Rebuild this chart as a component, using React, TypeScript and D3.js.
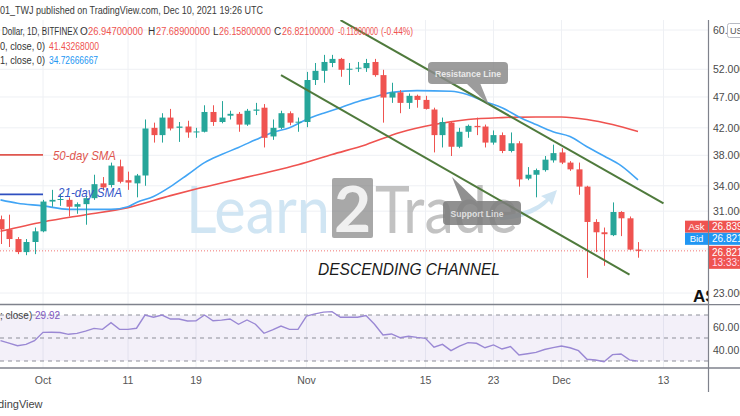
import React from "react";
import * as d3 from "d3";

const W = 740;
const H = 416;

// Daily candles from 2021-09-26 to 2021-12-10 (Bitfinex daily)
const firstDay = "2021-09-26";
const lastDay = "2021-12-10";
const opens = [30.1, 29.0, 28.0, 26.7, 27.7, 28.8, 32.1, 32.3, 32.3, 31.5, 31.8, 32.5, 34.3, 34.1, 36.5, 34.7, 34.3, 35.3, 42.0, 40.9, 43.6, 42.0, 42.2, 41.3, 41.4, 44.5, 42.9, 43.9, 44.2, 42.5, 44.7, 45.2, 40.7, 42.0, 44.3, 42.8, 42.9, 50.0, 51.7, 53.2, 54.0, 51.9, 52.1, 52.2, 53.4, 50.9, 46.9, 47.8, 46.0, 47.2, 46.5, 44.9, 40.9, 42.8, 39.2, 41.4, 42.3, 42.2, 39.8, 40.9, 38.6, 39.7, 34.9, 35.4, 36.0, 37.3, 38.4, 37.0, 36.1, 33.9, 29.8, 28.7, 28.4, 30.9, 30.2, 26.947];
const highs = [30.5, 30.6, 28.2, 28.0, 29.2, 32.3, 33.5, 33.0, 32.6, 32.0, 32.8, 35.4, 35.1, 37.0, 37.4, 35.8, 35.5, 43.3, 42.8, 44.3, 45.0, 42.9, 43.1, 42.0, 45.6, 45.6, 46.3, 44.7, 44.5, 45.0, 46.0, 45.8, 43.3, 44.7, 44.6, 43.6, 51.5, 53.2, 54.8, 54.8, 54.2, 53.2, 53.4, 54.0, 54.0, 51.9, 49.5, 48.2, 47.6, 47.4, 47.2, 45.2, 43.6, 43.0, 42.0, 42.5, 43.6, 42.5, 41.6, 41.3, 41.3, 40.0, 36.4, 36.2, 37.9, 39.5, 39.0, 37.2, 37.0, 34.0, 30.1, 29.2, 32.0, 31.0, 30.4, 27.689];
const lows = [27.5, 27.2, 26.5, 26.4, 26.5, 28.7, 31.5, 31.6, 30.4, 30.7, 29.5, 32.3, 33.4, 33.8, 34.3, 33.5, 32.6, 34.0, 39.8, 39.8, 41.6, 39.9, 40.5, 40.5, 41.3, 42.3, 42.7, 43.3, 41.4, 42.3, 44.0, 39.1, 40.2, 41.8, 42.4, 41.4, 42.1, 49.1, 49.5, 52.4, 50.6, 49.1, 51.5, 51.5, 50.6, 42.8, 46.0, 44.3, 45.0, 45.2, 44.9, 38.4, 39.1, 37.9, 39.0, 40.5, 40.9, 39.1, 39.5, 38.3, 38.4, 33.9, 34.7, 32.6, 35.8, 37.0, 36.8, 35.9, 32.9, 24.3, 26.7, 25.4, 28.3, 28.3, 26.9, 26.158];
const closes = [29.0, 28.0, 26.7, 27.7, 28.8, 32.1, 32.3, 32.4, 31.5, 31.8, 32.5, 34.2, 33.8, 36.6, 34.5, 34.4, 35.3, 41.9, 40.9, 43.6, 41.9, 42.2, 41.3, 41.45, 44.5, 42.9, 43.6, 44.2, 42.5, 44.7, 44.9, 40.5, 42.0, 44.3, 42.8, 42.95, 50.0, 51.7, 53.4, 54.0, 51.9, 52.1, 52.3, 53.2, 50.9, 46.9, 47.8, 46.0, 47.2, 46.5, 45.0, 40.9, 42.9, 39.2, 41.4, 42.3, 42.1, 39.8, 40.9, 38.6, 39.7, 34.8, 35.4, 36.0, 37.4, 38.3, 37.0, 36.1, 33.9, 29.8, 28.7, 28.5, 30.9, 30.2, 26.94, 26.821];

const rsiValues = [47.7, 45.5, 43.3, 44.5, 47.7, 54.9, 55, 54.8, 53.2, 54, 56, 58.4, 57.5, 63.3, 57.5, 57.5, 58.5, 70, 68, 70, 66.5, 66.5, 64.8, 65, 70, 65, 65.5, 66.5, 61.9, 65.7, 62, 54.1, 57, 60.4, 57.5, 57.5, 69.1, 71, 72.5, 72.9, 68, 68, 68, 69.5, 62, 52.6, 53.5, 50.3, 51.5, 50.5, 49.7, 42, 44.5, 39, 43, 46, 45.4, 41.5, 44, 40.4, 42.5, 35.2, 36.3, 37.5, 40, 41.6, 43, 41.5, 39, 31.5, 30.9, 29.4, 35.5, 36.1, 31, 29.92];

const sma21Dates = ["2021-09-26", "2021-09-28", "2021-10-01", "2021-10-04", "2021-10-09", "2021-10-11", "2021-10-12", "2021-10-14", "2021-10-16", "2021-10-18", "2021-10-20", "2021-10-22", "2021-10-24", "2021-10-26", "2021-10-28", "2021-10-30", "2021-11-01", "2021-11-03", "2021-11-05", "2021-11-07", "2021-11-09", "2021-11-11", "2021-11-14", "2021-11-18", "2021-11-20", "2021-11-22", "2021-11-24", "2021-11-26", "2021-11-28", "2021-11-30", "2021-12-02", "2021-12-04", "2021-12-06", "2021-12-08", "2021-12-10"];
const sma21Values = [32.3, 31.9, 31.6, 31.2, 31.2, 31.5, 32.0, 32.7, 33.9, 35.4, 37.0, 38.1, 39.1, 40.2, 41.3, 42.0, 43.3, 44.3, 45.2, 46.2, 47.0, 47.8, 48.1, 48.0, 47.4, 46.2, 45.2, 43.7, 42.5, 41.4, 40.7, 39.2, 37.9, 36.6, 34.73];

const sma50Dates = ["2021-09-26", "2021-10-01", "2021-10-06", "2021-10-11", "2021-10-16", "2021-10-19", "2021-10-23", "2021-10-27", "2021-10-31", "2021-11-04", "2021-11-08", "2021-11-12", "2021-11-16", "2021-11-20", "2021-11-24", "2021-11-28", "2021-12-01", "2021-12-04", "2021-12-07", "2021-12-10"];
const sma50Values = [28.8, 29.8, 30.6, 31.4, 32.8, 33.6, 34.6, 35.6, 36.7, 38.1, 39.5, 41.3, 42.5, 43.3, 43.6, 43.7, 43.7, 43.3, 42.5, 41.43];

const resistanceDates = ["2021-11-05", "2021-12-13"];
const resistancePrices = [62.2, 31.9];
const supportDates = ["2021-10-29", "2021-12-09"];
const supportPrices = [50.9, 24.6];

const priceTicks = [60, 52, 47, 42, 38, 34, 31, 27, 23];
const priceTickLabels = ["60.0", "52.000", "47.000", "42.000", "38.000", "34.000", "31.000", "", "23.000"];
const timeTicks = ["2021-10-01", "2021-10-11", "2021-10-19", "2021-11-01", "2021-11-15", "2021-11-23", "2021-12-01", "2021-12-13"];
const timeTickLabels = ["Oct", "11", "19", "Nov", "15", "23", "Dec", "13"];
const rsiLevels = [70, 50, 30];
const rsiTicks = [60, 40];

const askPrice = 26.839;
const bidPrice = 26.821;
const lastPrice = 26.821;

const UP = "#26a69a";
const DOWN = "#ef5350";
const FONT = "'Liberation Sans', Arial, sans-serif";

const parse = (s: string) => new Date(s + "T00:00:00Z");

export default function App() {
  const dates = d3.utcDay.range(parse(firstDay), d3.utcDay.offset(parse(lastDay), 1));
  const x = d3.scaleUtc().domain([parse("2021-10-01"), parse("2021-12-10")]).range([43, 638]);
  const y = d3.scaleLog().domain([23, 60]).range([293, 30]);
  const ry = d3.scaleLinear().domain([30, 70]).range([361, 315]);

  const smooth = d3
    .line<[Date, number]>()
    .x((d) => x(d[0]))
    .y((d) => y(d[1]))
    .curve(d3.curveMonotoneX);
  const sma21 = smooth(sma21Dates.map((d, i) => [parse(d), sma21Values[i]] as [Date, number]));
  const sma50 = smooth(sma50Dates.map((d, i) => [parse(d), sma50Values[i]] as [Date, number]));
  const rsiPath = d3
    .line<number>()
    .x((_, i) => x(dates[i]))
    .y((d) => ry(d))(rsiValues);

  const bw = 6;
  const axisX = 708.5;

  return (
    <svg
      width={W}
      height={H}
      viewBox={`0 0 ${W} ${H}`}
      style={{ position: "absolute", left: 0, top: 0, display: "block", background: "#fff" }}
      fontFamily={FONT}
    >
      <defs>
        <clipPath id="pane">
          <rect x={0} y={20} width={axisX} height={284} />
        </clipPath>
        <clipPath id="rsiPane">
          <rect x={0} y={305} width={axisX} height={62} />
        </clipPath>
      </defs>
      <rect x={0} y={0} width={W} height={H} fill="#fff" />

      {/* grid */}
      {priceTicks.map((p, i) => (
        <line key={"hg" + i} x1={0} x2={axisX} y1={y(p)} y2={y(p)} stroke="#eef0f4" strokeWidth={1} />
      ))}
      {timeTicks.map((t, i) => (
        <line key={"vg" + i} x1={x(parse(t))} x2={x(parse(t))} y1={20} y2={368} stroke="#eef0f4" strokeWidth={1} />
      ))}

      {/* watermark */}
      <g>
        <text x={186} y={233} fontFamily="Lato, 'Open Sans', sans-serif" fontSize={66} fill="#d0e5f3" textLength={144} lengthAdjust="spacingAndGlyphs">Learn</text>
        <rect x={332} y={178} width={41} height={60} rx={2} fill="#7a7a7a" opacity={0.65} />
        <text x={352.5} y={232} textAnchor="middle" fontFamily="Lato, 'Open Sans', sans-serif" fontWeight={700} fontSize={64} fill="#f0f0f0">2</text>
        <text x={375} y={233} fontFamily="Lato, 'Open Sans', sans-serif" fontSize={66} fill="#a9a9a9" opacity={0.7} textLength={143} lengthAdjust="spacingAndGlyphs">Trade</text>
        <path d="M 500 216 Q 530 213 546 199 L 541 196 L 557 190 L 552 205 L 549 201 Q 532 219 500 220 Z" fill="#d0e5f3" />
      </g>

      <g clipPath="url(#pane)">
        {/* last price dotted line */}
        <line x1={0} x2={axisX} y1={y(lastPrice)} y2={y(lastPrice)} stroke={DOWN} strokeWidth={1} strokeDasharray="1,2" opacity={0.8} />

        {/* moving averages */}
        <path d={sma50 || ""} fill="none" stroke="#ef5350" strokeWidth={1.6} />
        <path d={sma21 || ""} fill="none" stroke="#42a5f5" strokeWidth={1.6} />

        {/* candles */}
        {dates.map((d, i) => {
          const o = opens[i], h = highs[i], l = lows[i], c = closes[i];
          const up = c >= o;
          const col = up ? UP : DOWN;
          const cx = Math.round(x(d)) + 0.5;
          const top = y(Math.max(o, c));
          const bot = y(Math.min(o, c));
          return (
            <g key={"c" + i}>
              <line x1={cx} x2={cx} y1={y(h)} y2={y(l)} stroke={col} strokeWidth={1} />
              <rect x={cx - bw / 2} y={top} width={bw} height={Math.max(1, bot - top)} fill={col} />
            </g>
          );
        })}

        {/* SMA annotations on the left */}
        <line x1={0} x2={x(parse("2021-10-01"))} y1={y(38.05)} y2={y(38.05)} stroke="#e0574f" strokeWidth={1.8} />
        <line x1={0} x2={x(parse("2021-10-01"))} y1={y(32.95)} y2={y(32.95)} stroke="#2f4fc0" strokeWidth={1.8} />
        <text x={53} y={160} fontSize={13} fontStyle="italic" fill="#e0574f" textLength={63} lengthAdjust="spacingAndGlyphs">50-day SMA</text>
        <text x={58} y={197} fontSize={13} fontStyle="italic" fill="#3556c8" textLength={64} lengthAdjust="spacingAndGlyphs">21-day SMA</text>

        {/* channel lines */}
        <line
          x1={x(parse(resistanceDates[0]))} y1={y(resistancePrices[0])}
          x2={x(parse(resistanceDates[1]))} y2={y(resistancePrices[1])}
          stroke="#4f7a3c" strokeWidth={2}
        />
        <line
          x1={x(parse(supportDates[0]))} y1={y(supportPrices[0])}
          x2={x(parse(supportDates[1]))} y2={y(supportPrices[1])}
          stroke="#4f7a3c" strokeWidth={2}
        />
      </g>

      {/* callouts */}
      <g opacity={0.85}>
        <path d="M 466 83 L 480 83 L 489 105 Z" fill="#8b8b8b" />
        <rect x={428} y={62} width={80} height={22} rx={4} fill="#8b8b8b" />
        <text x={468} y={76.5} textAnchor="middle" fontSize={9.5} fontWeight={700} fill="#e6e6e6" textLength={66} lengthAdjust="spacingAndGlyphs">Resistance Line</text>
        <path d="M 452 177 L 462 202 L 478 202 Z" fill="#7d7d7d" />
        <rect x={443} y={201} width={78} height={24} rx={4} fill="#7d7d7d" />
        <text x={477} y={216.5} textAnchor="middle" fontSize={9.5} fontWeight={700} fill="#dcdcdc" textLength={53} lengthAdjust="spacingAndGlyphs">Support Line</text>
      </g>

      <text x={318} y={275} fontSize={17} fontStyle="italic" fill="#1a1a1a" textLength={182} lengthAdjust="spacingAndGlyphs">DESCENDING CHANNEL</text>
      <text x={693} y={302} fontSize={17} fontWeight={600} fill="#111">AS</text>

      {/* RSI pane */}
      <rect x={0} y={ry(70)} width={axisX} height={ry(30) - ry(70)} fill="#7e57c2" opacity={0.09} />
      {rsiLevels.map((v, i) => (
        <line key={"rl" + i} x1={0} x2={axisX} y1={ry(v)} y2={ry(v)} stroke="#8d8f99" strokeWidth={1} strokeDasharray="4,4" />
      ))}
      <g clipPath="url(#rsiPane)">
        <path d={rsiPath || ""} fill="none" stroke="#9a88d4" strokeWidth={1.4} />
      </g>
      <text x={0} y={319} fontSize={10}>
        <tspan fill="#444">; close) </tspan>
        <tspan fill="#7e57c2">{rsiValues[rsiValues.length - 1].toFixed(2)}</tspan>
      </text>

      {/* pane separators */}
      <line x1={0} x2={W} y1={304.5} y2={304.5} stroke="#7f828c" strokeWidth={1.4} />
      <line x1={0} x2={W} y1={368} y2={368} stroke="#7f828c" strokeWidth={1.4} />

      {/* right price axis */}
      <rect x={axisX + 0.5} y={20} width={W - axisX} height={284} fill="#fff" />
      <line x1={axisX} x2={axisX} y1={20} y2={392} stroke="#7f828c" strokeWidth={1.2} />
      {priceTicks.map((p, i) => (
        <text key={"pl" + i} x={713} y={y(p) + 4} fontSize={10.5} fill="#4a4a4a">{priceTickLabels[i]}</text>
      ))}
      <rect x={727.5} y={23.5} width={20} height={14} rx={2} fill="#fff" stroke="#b8bbc4" />
      <text x={730} y={34} fontSize={9} fill="#555">USD</text>
      {rsiTicks.map((v, i) => (
        <text key={"rt" + i} x={713} y={ry(v) + 4} fontSize={10.5} fill="#4a4a4a">{v.toFixed(2)}</text>
      ))}

      {/* ask / bid / last tags */}
      <rect x={685} y={y(askPrice) - 30} width={23} height={12} fill={DOWN} />
      <text x={696.5} y={y(askPrice) - 20.5} textAnchor="middle" fontSize={9.5} fill="#fff">Ask</text>
      <rect x={709} y={y(askPrice) - 30} width={31} height={12} fill={DOWN} />
      <text x={712} y={y(askPrice) - 20.5} fontSize={10} fill="#fff">{askPrice.toFixed(5)}</text>
      <rect x={685} y={y(bidPrice) - 18} width={23} height={12} fill="#2196f3" />
      <text x={696.5} y={y(bidPrice) - 8.5} textAnchor="middle" fontSize={9.5} fill="#fff">Bid</text>
      <rect x={709} y={y(bidPrice) - 18} width={31} height={12} fill="#2196f3" />
      <text x={712} y={y(bidPrice) - 8.5} fontSize={10} fill="#fff">{bidPrice.toFixed(5)}</text>
      <rect x={709} y={y(lastPrice) - 5} width={31} height={23} fill={DOWN} />
      <text x={712} y={y(lastPrice) + 5} fontSize={10} fill="#fff">{lastPrice.toFixed(5)}</text>
      <text x={712} y={y(lastPrice) + 15.5} fontSize={10} fill="#fde">13:33:27</text>

      {/* time axis */}
      {timeTicks.map((t, i) => (
        <text key={"tl" + i} x={x(parse(t))} y={384} textAnchor="middle" fontSize={10.5} fill="#555">{timeTickLabels[i]}</text>
      ))}

      {/* header */}
      <text x={0} y={14} fontSize={10.5} fill="#3a3a3a" textLength={263} lengthAdjust="spacingAndGlyphs">01_TWJ published on TradingView.com, Dec 10, 2021 19:26 UTC</text>
      <g fontSize={10}>
        <text x={2} y={35} fill="#333" textLength={76} lengthAdjust="spacingAndGlyphs">Dollar, 1D, BITFINEX</text>
        <text x={80} y={35} fill="#333">O</text>
        <text x={88} y={35} fill={DOWN} textLength={55} lengthAdjust="spacingAndGlyphs">{opens[opens.length - 1].toFixed(8)}</text>
        <text x={148} y={35} fill="#333">H</text>
        <text x={156} y={35} fill={DOWN} textLength={54} lengthAdjust="spacingAndGlyphs">{highs[highs.length - 1].toFixed(8)}</text>
        <text x={213} y={35} fill="#333">L</text>
        <text x={219} y={35} fill={DOWN} textLength={52} lengthAdjust="spacingAndGlyphs">{lows[lows.length - 1].toFixed(8)}</text>
        <text x={274} y={35} fill="#333">C</text>
        <text x={282} y={35} fill={DOWN} textLength={52} lengthAdjust="spacingAndGlyphs">{closes[closes.length - 1].toFixed(8)}</text>
        <text x={338} y={35} fill={DOWN} textLength={40} lengthAdjust="spacingAndGlyphs">-0.11800000</text>
        <text x={381} y={35} fill={DOWN} textLength={32} lengthAdjust="spacingAndGlyphs">(-0.44%)</text>
        <text x={0} y={50} fill="#333" textLength={45} lengthAdjust="spacingAndGlyphs">0, close, 0)</text>
        <text x={49} y={50} fill={DOWN} textLength={50} lengthAdjust="spacingAndGlyphs">41.43268000</text>
        <text x={0} y={64} fill="#333" textLength={45} lengthAdjust="spacingAndGlyphs">1, close, 0)</text>
        <text x={49} y={64} fill="#2196f3" textLength={49} lengthAdjust="spacingAndGlyphs">34.72666667</text>
      </g>

      <text x={-18} y={408} fontSize={11} fill="#444">TradingView</text>
    </svg>
  );
}
